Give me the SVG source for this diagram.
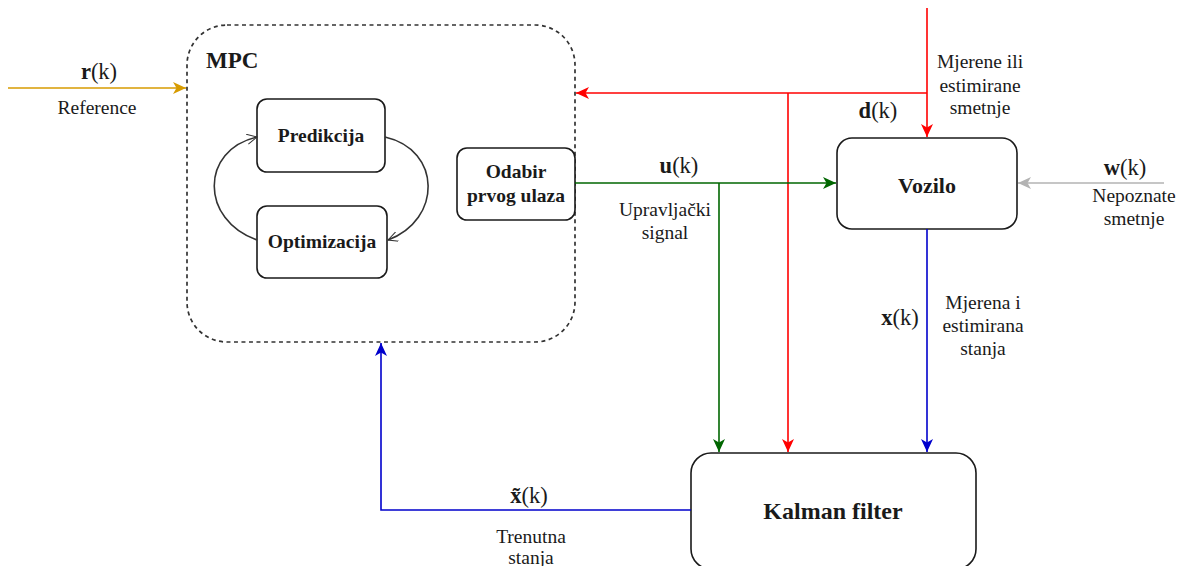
<svg xmlns="http://www.w3.org/2000/svg" width="1184" height="566" viewBox="0 0 1184 566">
<style>
.node{fill:#fff;stroke:#1a1a1a;stroke-width:1.6}
.t{font-family:"Liberation Serif","Times New Roman",serif;fill:#1a1a1a;text-anchor:middle}
.b{font-weight:bold}
.s{font-size:19.5px}
.m{font-size:22.5px}
.c{fill:none;stroke-width:1.6}
</style>
<defs>
<marker id="aY" markerUnits="userSpaceOnUse" markerWidth="16" markerHeight="14" refX="13" refY="6" orient="auto"><path d="M0,0 L13,6 L0,12 L3.5,6 z" fill="#D79B00"/></marker>
<marker id="aR" markerUnits="userSpaceOnUse" markerWidth="16" markerHeight="14" refX="13" refY="6" orient="auto"><path d="M0,0 L13,6 L0,12 L3.5,6 z" fill="#FF0000"/></marker>
<marker id="aG" markerUnits="userSpaceOnUse" markerWidth="16" markerHeight="14" refX="13" refY="6" orient="auto"><path d="M0,0 L13,6 L0,12 L3.5,6 z" fill="#006600"/></marker>
<marker id="aB" markerUnits="userSpaceOnUse" markerWidth="16" markerHeight="14" refX="13" refY="6" orient="auto"><path d="M0,0 L13,6 L0,12 L3.5,6 z" fill="#0000CC"/></marker>
<marker id="aW" markerUnits="userSpaceOnUse" markerWidth="16" markerHeight="14" refX="13" refY="6" orient="auto"><path d="M0,0 L13,6 L0,12 L3.5,6 z" fill="#B3B3B3"/></marker>
<marker id="aO" markerUnits="userSpaceOnUse" markerWidth="12" markerHeight="12" refX="10" refY="5" orient="auto"><path d="M0,0 L10,5 L0,10" fill="none" stroke="#333" stroke-width="1"/></marker>
</defs>

<g id="mpc">
<rect x="187" y="25" width="388" height="317" rx="40" ry="40" fill="none" stroke="#333" stroke-width="1.7" stroke-dasharray="4 3.5"/>
<text class="t b" x="206" y="68" style="text-anchor:start;font-size:23px">MPC</text>
</g>

<g id="predikcija">
<rect class="node" x="257" y="99" width="128" height="73" rx="10"/>
<text class="t b s" x="321" y="142">Predikcija</text>
</g>
<g id="optimizacija">
<rect class="node" x="257" y="206" width="130" height="72" rx="10"/>
<text class="t b s" x="322" y="248">Optimizacija</text>
</g>
<g id="odabir">
<rect class="node" x="457" y="148" width="118" height="72" rx="10"/>
<text class="t b s" x="516" y="178">Odabir</text>
<text class="t b s" x="516" y="202">prvog ulaza</text>
</g>
<g id="vozilo">
<rect class="node" x="837" y="138" width="180" height="91" rx="15"/>
<text class="t b" x="927" y="193" style="font-size:22px">Vozilo</text>
</g>
<g id="kalman">
<rect class="node" x="691" y="453" width="285" height="116" rx="20"/>
<text class="t b" x="833" y="519" style="font-size:24px">Kalman filter</text>
</g>

<g id="connectors">
<path class="c" d="M257,240 C200,220 200,150 257,137" stroke="#333" stroke-width="1" marker-end="url(#aO)"/>
<path class="c" d="M385,137 C442,150 442,220 388,240" stroke="#333" stroke-width="1" marker-end="url(#aO)"/>
<path class="c" d="M8,88 L186,88" stroke="#D79B00" marker-end="url(#aY)"/>
<path class="c" d="M927,8 L927,137" stroke="#FF0000" marker-end="url(#aR)"/>
<path class="c" d="M927,93 L576,93" stroke="#FF0000" marker-end="url(#aR)"/>
<path class="c" d="M788,93 L788,452" stroke="#FF0000" marker-end="url(#aR)"/>
<path class="c" d="M575,183 L836,183" stroke="#006600" marker-end="url(#aG)"/>
<path class="c" d="M719,183 L719,452" stroke="#006600" marker-end="url(#aG)"/>
<path class="c" d="M927,229 L927,452" stroke="#0000CC" marker-end="url(#aB)"/>
<path class="c" d="M1164,183 L1018,183" stroke="#B3B3B3" marker-end="url(#aW)"/>
<path class="c" d="M691,510 L381,510 L381,343" stroke="#0000CC" marker-end="url(#aB)"/>
</g>

<g id="labels">
<text class="t m" x="99" y="79"><tspan class="b">r</tspan>(k)</text>
<text class="t s" x="97" y="114">Reference</text>
<text class="t m" x="679" y="173"><tspan class="b">u</tspan>(k)</text>
<text class="t s" x="665" y="216">Upravljački</text>
<text class="t s" x="665" y="239">signal</text>
<text class="t m" x="878" y="118"><tspan class="b">d</tspan>(k)</text>
<text class="t s" x="980" y="68">Mjerene ili</text>
<text class="t s" x="980" y="92">estimirane</text>
<text class="t s" x="980" y="114">smetnje</text>
<text class="t m" x="1125" y="175"><tspan class="b">w</tspan>(k)</text>
<text class="t s" x="1134" y="202">Nepoznate</text>
<text class="t s" x="1134" y="225">smetnje</text>
<text class="t m" x="900" y="325"><tspan class="b">x</tspan>(k)</text>
<text class="t s" x="983" y="309">Mjerena i</text>
<text class="t s" x="983" y="332">estimirana</text>
<text class="t s" x="983" y="355">stanja</text>
<text class="t m" x="529" y="503"><tspan class="b">x̃</tspan>(k)</text>
<text class="t s" x="531" y="543">Trenutna</text>
<text class="t s" x="531" y="564">stanja</text>
</g>
</svg>
